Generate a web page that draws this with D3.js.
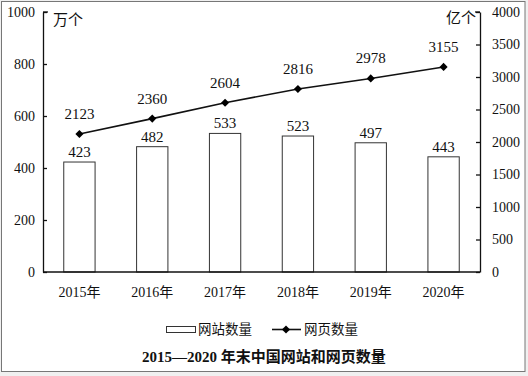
<!DOCTYPE html>
<html>
<head>
<meta charset="utf-8">
<script src="https://cdn.jsdelivr.net/npm/d3@7"></script>
<style>
  body { margin: 0; background: #f0f0f0; }
  text { font-family: "Liberation Serif", "Noto Sans CJK SC", serif; fill: #111; }
</style>
</head>
<body>
<div id="chart"></div>
<script>
// données
const annees = ["2015年", "2016年", "2017年", "2018年", "2019年", "2020年"];
const sites = [423, 482, 533, 523, 497, 443];      // 万个
const pages = [2123, 2360, 2604, 2816, 2978, 3155]; // 亿个
const ticksGauche = [0, 200, 400, 600, 800, 1000];
const ticksDroite = [0, 500, 1000, 1500, 2000, 2500, 3000, 3500, 4000];

const W = 528, H = 376;
const plot = {left: 43, right: 480, top: 12, bottom: 272};

const svg = d3.select("#chart").append("svg")
  .attr("width", W).attr("height", H);

// cadre
svg.append("rect").attr("x", 1.5).attr("y", 1.5).attr("width", 523.5).attr("height", 370)
  .attr("fill", "#fff").attr("stroke", "#777").attr("stroke-width", 1);

// échelles
const x = d3.scaleBand().domain(annees).range([plot.left, plot.right]).paddingInner(0).paddingOuter(0);
const yG = d3.scaleLinear().domain([0, 1000]).range([plot.bottom, plot.top]);
const yD = d3.scaleLinear().domain([0, 4000]).range([plot.bottom, plot.top]);
const barW = x.bandwidth() * 0.43;

// axes
const axG = svg.append("g").attr("transform", `translate(${plot.left},0)`)
  .call(d3.axisLeft(yG).tickValues(ticksGauche).tickFormat(d3.format("d"))
    .tickSize(-4).tickSizeOuter(0).tickPadding(8));
const axD = svg.append("g").attr("transform", `translate(${plot.right},0)`)
  .call(d3.axisRight(yD).tickValues(ticksDroite).tickFormat(d3.format("d"))
    .tickSize(-4).tickSizeOuter(0).tickPadding(12));
[axG, axD].forEach(a => {
  a.attr("font-size", null).attr("font-family", null);
  a.select(".domain").attr("stroke", "#111").attr("stroke-width", 1.3);
  a.selectAll(".tick line").attr("stroke", "#111").attr("stroke-width", 1.3);
  a.selectAll(".tick text").attr("font-size", 14).attr("fill", "#111");
});
axD.selectAll(".tick text").attr("text-anchor", "start");
// petits crochets en haut
svg.append("line").attr("x1", plot.left).attr("x2", plot.left + 5)
  .attr("y1", plot.top).attr("y2", plot.top).attr("stroke", "#111").attr("stroke-width", 1.3);
svg.append("line").attr("x1", plot.right).attr("x2", plot.right - 5)
  .attr("y1", plot.top).attr("y2", plot.top).attr("stroke", "#111").attr("stroke-width", 1.3);

// barres
svg.append("g").selectAll("rect").data(sites).join("rect")
  .attr("x", (d, i) => x(annees[i]) + x.bandwidth() / 2 - barW / 2)
  .attr("y", d => yG(d))
  .attr("width", barW)
  .attr("height", d => plot.bottom - yG(d))
  .attr("fill", "#fff").attr("stroke", "#333").attr("stroke-width", 1);

svg.append("g").selectAll("text").data(sites).join("text")
  .attr("x", (d, i) => x(annees[i]) + x.bandwidth() / 2)
  .attr("y", d => yG(d) - 5)
  .attr("text-anchor", "middle").attr("font-size", 15)
  .text(d => d);

// axe x (ligne du bas)
svg.append("line").attr("x1", plot.left).attr("x2", plot.right)
  .attr("y1", plot.bottom).attr("y2", plot.bottom)
  .attr("stroke", "#111").attr("stroke-width", 1.5);

svg.append("g").selectAll("text").data(annees).join("text")
  .attr("x", d => x(d) + x.bandwidth() / 2)
  .attr("y", plot.bottom + 25)
  .attr("text-anchor", "middle").attr("font-size", 14)
  .text(d => d);

// ligne des pages
const ligne = d3.line()
  .x((d, i) => x(annees[i]) + x.bandwidth() / 2)
  .y(d => yD(d));
svg.append("path").datum(pages).attr("d", ligne)
  .attr("fill", "none").attr("stroke", "#111").attr("stroke-width", 1.6);

const losange = d3.symbol().type(d3.symbolDiamond2).size(42);
svg.append("g").selectAll("path").data(pages).join("path")
  .attr("d", losange)
  .attr("transform", (d, i) => `translate(${x(annees[i]) + x.bandwidth() / 2},${yD(d)})`)
  .attr("fill", "#000");

svg.append("g").selectAll("text").data(pages).join("text")
  .attr("x", (d, i) => x(annees[i]) + x.bandwidth() / 2)
  .attr("y", d => yD(d) - 15)
  .attr("text-anchor", "middle").attr("font-size", 15)
  .text(d => d);

// unités
svg.append("text").attr("x", 53).attr("y", 25).attr("font-size", 15).text("万个");
svg.append("text").attr("x", 476).attr("y", 23).attr("font-size", 15)
  .attr("text-anchor", "end").text("亿个");

// légende
svg.append("rect").attr("x", 166.5).attr("y", 326.5).attr("width", 29).attr("height", 6)
  .attr("fill", "#fff").attr("stroke", "#333");
svg.append("text").attr("x", 198).attr("y", 334).attr("font-size", 13.5).text("网站数量");
svg.append("line").attr("x1", 272).attr("x2", 301).attr("y1", 329.5).attr("y2", 329.5)
  .attr("stroke", "#111").attr("stroke-width", 1.6);
svg.append("path").attr("d", losange).attr("transform", "translate(286,329.5)").attr("fill", "#000");
svg.append("text").attr("x", 304).attr("y", 334).attr("font-size", 13.5).text("网页数量");

// titre
svg.append("text").attr("x", 264).attr("y", 362).attr("text-anchor", "middle")
  .attr("font-size", 15).attr("font-weight", "bold")
  .text("2015—2020 年末中国网站和网页数量");
</script>
</body>
</html>
